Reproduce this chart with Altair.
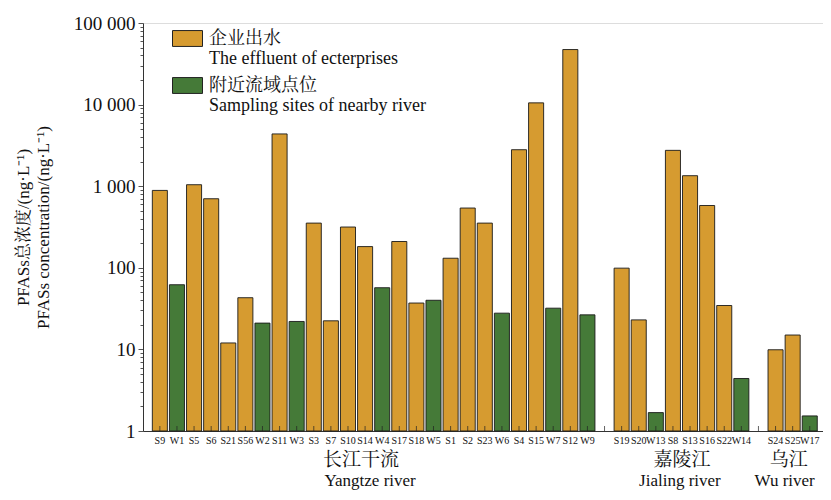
import altair as alt
import pandas as pd

# ---- data ----
yangtze_sites = ["S9","W1","S5","S6","S21","S56","W2","S11","W3","S3","S7","S10","S14",
                 "W4","S17","S18","W5","S1","S2","S23","W6","S4","S15","W7","S12","W9"]
yangtze_vals = [888, 62, 1043, 702, 12, 43, 21, 4370, 22, 353, 22.4, 316, 182,
                57, 210, 37, 40, 131, 540, 353, 27.8, 2800, 10500, 32, 47300, 26.5]
jialing_sites = ["S19","S20","W13","S8","S13","S16","S22","W14"]
jialing_vals = [99, 23, 1.68, 2750, 1345, 580, 34.5, 4.4]
wu_sites = ["S24","S25","W17"]
wu_vals = [9.9, 15, 1.53]

gap_slots = ["gap1", "gap2"]
legend_cn = ["企业出水", "附近流域点位"]
legend_en = ["The effluent of ecterprises", "Sampling sites of nearby river"]
group_cn = ["长江干流", "嘉陵江", "乌江"]
group_en = ["Yangtze river", "Jialing river", "Wu river"]
group_anchor = ["S14", "S8", "S25"]
y_min = 1

sites = yangtze_sites + jialing_sites + wu_sites
vals = yangtze_vals + jialing_vals + wu_vals
domain = yangtze_sites + [gap_slots[0]] + jialing_sites + [gap_slots[1]] + wu_sites

df = pd.DataFrame({
    "site": sites,
    "value": vals,
    "kind": ["E" if s.startswith("S") else "R" for s in sites],
})
ticks_df = pd.DataFrame({"site": domain})

y_minor = [k * 10 ** d for d in range(5) for k in range(1, 10)] + [100000]

SERIF = "Liberation Serif, Times New Roman, Noto Serif CJK SC, Noto Sans CJK SC, serif"
W, H = 680, 408
ORANGE = "#D69B30"
GREEN = "#457A38"
DX_CN = [-4, 9, -4]
DX_EN = [5, 7, -8]

xscale = alt.Scale(domain=domain, paddingInner=0.12, paddingOuter=0.44, align=0.62)
yscale = alt.Scale(type="log", domain=[1, 100000])

label_expr = ("datum.value == 'E' ? ['" + legend_cn[0] + "', '" + legend_en[0] + "'] : ['"
              + legend_cn[1] + "', '" + legend_en[1] + "']")

major_test = "indexof([1,10,100,1000,10000,100000], datum.value) >= 0"

bars = alt.Chart(df).mark_bar(stroke="#1a1a1a", strokeWidth=0.9).encode(
    x=alt.X("site:N", scale=xscale, sort=domain,
            axis=alt.Axis(title=None, labelAngle=0, labelFontSize=10, labelFont=SERIF,
                          labelColor="#111", ticks=False, domainColor="#333",
                          labelPadding=4,
                          labelExpr="indexof(datum.label, 'gap') >= 0 ? '' : datum.label")),
    y=alt.Y("value:Q", scale=yscale,
            axis=alt.Axis(values=y_minor, grid=False,
                          title=["PFASs总浓度/(ng·L⁻¹)", "PFASs concentration/(ng·L⁻¹)"],
                          titleFont=SERIF, titleFontSize=17, titleFontWeight="normal",
                          titleColor="#111", titlePadding=21, titleLineHeight=20,
                          labelFont=SERIF, labelFontSize=19, labelColor="#111",
                          labelExpr="(" + major_test + ") ? (datum.value >= 1000 ? replace(format(datum.value, ','), ',', ' ') : format(datum.value, '')) : ''",
                          tickSize={"condition": {"test": major_test, "value": 5}, "value": 3},
                          tickColor="#555", domainColor="#333", labelPadding=3)),
    y2=alt.datum(y_min),
    color=alt.Color("kind:N",
                    scale=alt.Scale(domain=["E", "R"], range=[ORANGE, GREEN]),
                    legend=alt.Legend(title=None, orient="none", legendX=29, legendY=0,
                                      symbolType="M-1,-0.53H1V0.53H-1Z", symbolSize=900,
                                      symbolStrokeColor="#222", symbolStrokeWidth=1,
                                      labelFont=SERIF, labelFontSize=18, labelColor="#111",
                                      labelExpr=label_expr, labelLimit=400,
                                      labelBaseline="middle", labelOffset=6,
                                      rowPadding=2, symbolOffset=0)),
)

xticks = alt.Chart(ticks_df).mark_tick(orient="vertical", color="#222", thickness=1, size=5).encode(
    x=alt.X("site:N", scale=xscale, sort=domain),
    y=alt.value(H - 2.5),
)

layers = [bars, xticks]
for i in range(len(group_cn)):
    gdf = pd.DataFrame({"site": [group_anchor[i]], "cn": [group_cn[i]], "en": [group_en[i]]})
    layers.append(alt.Chart(gdf).mark_text(font=SERIF, fontSize=19, color="#111", dx=DX_CN[i]).encode(
        x=alt.X("site:N", scale=xscale, sort=domain),
        y=alt.value(H + 29),
        text="cn:N",
    ))
    layers.append(alt.Chart(gdf).mark_text(font=SERIF, fontSize=17, color="#111", dx=DX_EN[i]).encode(
        x=alt.X("site:N", scale=xscale, sort=domain),
        y=alt.value(H + 50),
        text="en:N",
    ))

chart = alt.layer(*layers).properties(
    width=W, height=H,
    autosize=alt.AutoSizeParams(type="none"),
    padding={"left": 135, "top": 15, "right": 0, "bottom": 61},
).configure_view(stroke=None).configure(background="white")

chart.save("out.html", embed_options={"renderer": "svg", "actions": False})
